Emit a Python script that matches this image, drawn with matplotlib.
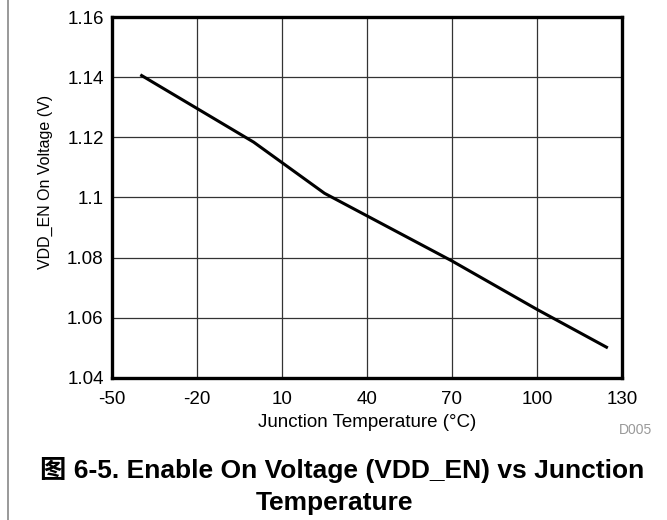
import matplotlib
matplotlib.use("Agg")
import matplotlib.pyplot as plt
from matplotlib.lines import Line2D

plt.rcParams['font.family'] = ['Liberation Sans', 'Noto Sans CJK SC', 'DejaVu Sans']

temperature = [-40, -20, 0, 25, 70, 100, 125]
voltage = [1.1408, 1.1296, 1.1184, 1.1014, 1.0789, 1.0628, 1.0500]
x_ticks = [-50, -20, 10, 40, 70, 100, 130]
y_ticks = [1.04, 1.06, 1.08, 1.10, 1.12, 1.14, 1.16]
y_tick_labels = ['1.04', '1.06', '1.08', '1.1', '1.12', '1.14', '1.16']

fig = plt.figure(figsize=(6.67, 5.2), dpi=100)
ax = fig.add_axes([112/667, 1-378/520, 510/667, 361/520])

ax.plot(temperature, voltage, color='black', lw=2.2, solid_capstyle='butt', zorder=3)
ax.set_xlim(-50, 130)
ax.set_ylim(1.04, 1.16)
ax.set_xticks(x_ticks)
ax.set_xticklabels([str(t) for t in x_ticks])
ax.set_yticks(y_ticks)
ax.set_yticklabels(y_tick_labels)
ax.grid(True, color='#333333', lw=0.9)
ax.tick_params(axis='x', length=0, labelsize=13.5, pad=9)
ax.tick_params(axis='y', length=0, labelsize=13.5, pad=6)
for s in ax.spines.values():
    s.set_linewidth(2.4)
    s.set_color('black')

ax.set_xlabel('Junction Temperature (°C)', fontsize=13.5, labelpad=5)
ax.set_ylabel('VDD_EN On Voltage (V)', fontsize=11.5)
ax.yaxis.set_label_coords((53 - 112) / 510, (378 - 182) / 361)

fig.text(652/667, 1-430/520, 'D005', color='#999999', fontsize=10, ha='right', va='center')
fig.text(342/667, 1-470/520, '图 6-5. Enable On Voltage (VDD_EN) vs Junction', fontsize=19,
         fontweight='bold', ha='center', va='center')
fig.text(335/667, 1-503/520, 'Temperature', fontsize=19, fontweight='bold', ha='center', va='center')

fig.add_artist(Line2D([8/667, 8/667], [0, 1], transform=fig.transFigure, color='#888888', lw=1.2))

fig.savefig('out.png', dpi=100)
